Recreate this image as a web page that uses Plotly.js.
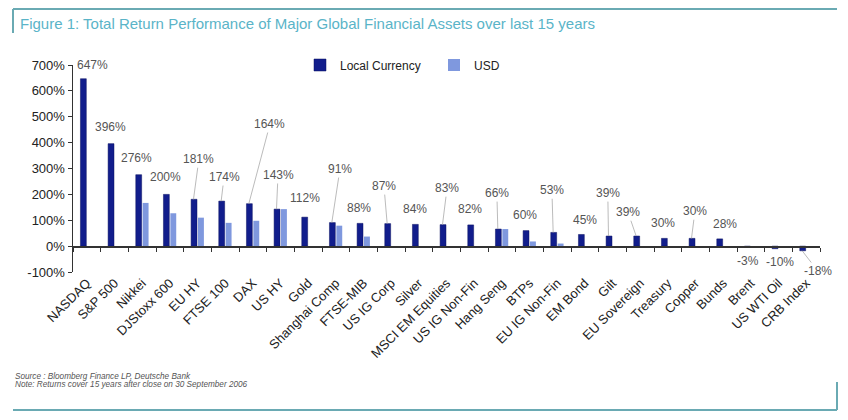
<!DOCTYPE html>
<html>
<head>
<meta charset="utf-8">
<script src="https://cdn.plot.ly/plotly-3.0.1.min.js"></script>
<style>html,body{margin:0;padding:0;background:#fff;}#chart{width:848px;height:420px;}</style>
</head>
<body>
<div id="chart"></div>
<script>
// ---- data ----
const categories = ["NASDAQ","S&P 500","Nikkei","DJStoxx 600","EU HY","FTSE 100","DAX","US HY","Gold","Shanghai Comp","FTSE-MIB","US IG Corp","Silver","MSCI EM Equities","US IG Non-Fin","Hang Seng","BTPs","EU IG Non-Fin","EM Bond","Gilt","EU Sovereign","Treasury","Copper","Bunds","Brent","US WTI Oil","CRB Index"];
const localCurrency = [647,396,276,200,181,174,164,143,112,91,88,87,84,83,82,66,60,53,45,39,39,30,30,28,-3,-10,-18];
const usd = [null,null,167,127,110,90,98,143,null,79,37,null,null,null,null,66,18,10,null,null,null,null,null,null,null,null,null];
const yTicks = [-100,0,100,200,300,400,500,600,700];

// ---- label placement (layout only) ----
const labelX = [0.22,0.84,1.81,2.86,4.05,4.96,6.62,6.91,7.88,9.15,9.84,10.74,11.86,13.02,13.85,14.82,15.84,16.81,18.0,18.83,19.56,20.82,21.98,23.06,23.89,25.05,26.42];
const labelY = [700,460,340,267,336,267,472,275,185,298,147,232,143,224,143,205,120,216,100,205,131,89,135,85,-58,-62,-96];
const leader = [0,0,0,0,1,1,1,1,0,1,0,1,0,1,0,1,0,1,0,1,1,0,1,0,0,0,1];

const FAM = 'Liberation Sans, Arial, sans-serif';
const darkOffset = -0.145;
const annotations = [];
categories.forEach((c, i) => {
  const txt = localCurrency[i] + '%';
  const base = {text: txt, font: {family: FAM, size: 12, color: '#555'}, xref: 'x', yref: 'y'};
  if (leader[i]) {
    annotations.push(Object.assign({}, base, {
      x: i + darkOffset, y: localCurrency[i], ax: labelX[i], ay: labelY[i],
      axref: 'x', ayref: 'y', showarrow: true, arrowhead: 0, arrowwidth: 0.8,
      arrowcolor: '#aaaaaa', standoff: 0
    }));
  } else {
    annotations.push(Object.assign({}, base, {x: labelX[i], y: labelY[i], showarrow: false}));
  }
});

// footnotes
const px2x = p => (p - 73) / 747;
const px2y = p => (272 - p) / 207;
annotations.push({xref:'paper', yref:'paper', x: px2x(13), y: px2y(376), xanchor:'left', yanchor:'middle', showarrow:false,
  text:'<i>Source : Bloomberg Finance LP, Deutsche Bank</i>', font:{family:FAM, size:8.2, color:'#555'}});
annotations.push({xref:'paper', yref:'paper', x: px2x(13), y: px2y(384), xanchor:'left', yanchor:'middle', showarrow:false,
  text:'<i>Note: Returns cover 15 years after close on 30 September 2006</i>', font:{family:FAM, size:8.2, color:'#555'}});

const frameColor = '#6aaab3';
const shapes = [
  {type:'line', xref:'paper', yref:'paper', x0:px2x(13), x1:px2x(837), y0:px2y(9), y1:px2y(9), line:{color:frameColor, width:2}},
  {type:'line', xref:'paper', yref:'paper', x0:px2x(13), x1:px2x(13), y0:px2y(9), y1:px2y(33), line:{color:frameColor, width:2}},
  {type:'line', xref:'paper', yref:'paper', x0:px2x(13), x1:px2x(837), y0:px2y(410), y1:px2y(410), line:{color:frameColor, width:2}},
  {type:'line', xref:'paper', yref:'paper', x0:px2x(837), x1:px2x(837), y0:px2y(382), y1:px2y(410), line:{color:frameColor, width:2}}
];

const tickFont = {family: FAM, size: 13, color: '#222'};

const traces = [
  {type:'bar', name:'Local Currency', x: categories, y: localCurrency, marker:{color:'#111d8c', line:{color:'#0a1160', width:0.5}}, hoverinfo:'skip'},
  {type:'bar', name:'USD', x: categories, y: usd, marker:{color:'#7f98de'}, hoverinfo:'skip'},
  {type:'scatter', mode:'none', x: categories, y: localCurrency, xaxis:'x2', showlegend:false, hoverinfo:'skip'}
];

const layout = {
  width: 848, height: 420,
  margin: {l:73, r:28, t:65, b:148},
  paper_bgcolor: '#fff', plot_bgcolor: '#fff',
  font: tickFont,
  title: {text: 'Figure 1: Total Return Performance of Major Global Financial Assets over last 15 years',
    x: 20/848, xanchor: 'left', y: 1 - 24/420, yanchor: 'middle', xref: 'container', yref: 'container',
    font: {family: FAM, size: 15, color: '#5ab4c8'}},
  barmode: 'group', bargap: 0.5, bargroupgap: 0.15,
  showlegend: true,
  legend: {orientation:'h', x: px2x(300), y: 1.0, xanchor:'left', yanchor:'middle', font:{family:FAM, size:12, color:'#222'}, itemwidth:30, entrywidth: 89, entrywidthmode:'pixels', bgcolor:'rgba(0,0,0,0)'},
  xaxis: {type:'category', range:[-0.5, 26.5], tickangle:-45, ticks:'', showline:false, showgrid:false, zeroline:false, tickfont: tickFont, fixedrange:true},
  xaxis2: {type:'category', overlaying:'x', anchor:'free', position: 0.125, range:[-0.5, 26.5], tickson:'boundaries', ticks:'outside', ticklen:4, tickcolor:'#333', showticklabels:false, showline:true, linecolor:'#333', linewidth:1.5, showgrid:false, zeroline:false},
  yaxis: {range:[-100, 700], tickvals: yTicks, ticktext: yTicks.map(v => v + '%'), ticks:'outside', ticklen:4, tickcolor:'#333', showline:true, linecolor:'#333', linewidth:1.5, showgrid:false, zeroline:false, tickfont: tickFont},
  annotations: annotations,
  shapes: shapes
};

Plotly.newPlot('chart', traces, layout, {displayModeBar:false, staticPlot:true});
</script>
</body>
</html>
